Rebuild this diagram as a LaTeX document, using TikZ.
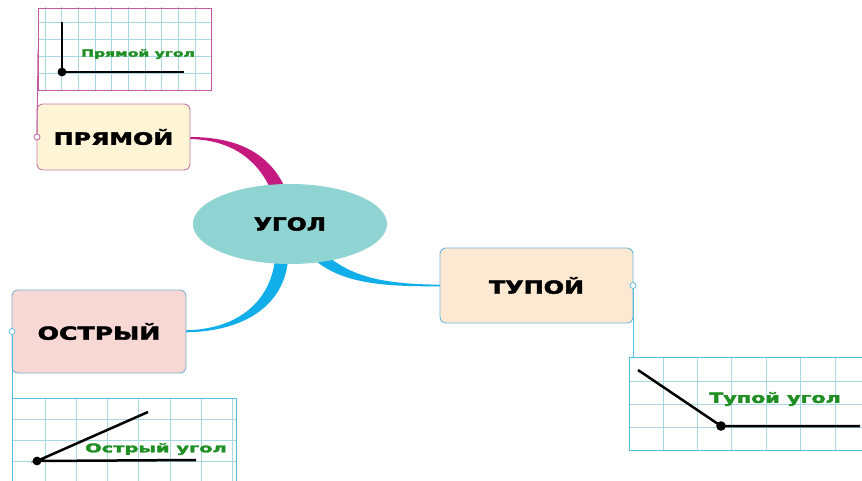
\documentclass[tikz,border=0pt]{standalone}
\usepackage{fontspec}
\usepackage{graphicx}
\setmainfont{DejaVu Sans}[BoldFeatures={FakeBold=2.2}]
\usetikzlibrary{shapes.geometric,calc,backgrounds}
\definecolor{ugolfill}{HTML}{8FD4D2}
\definecolor{magbranch}{HTML}{C41A80}
\definecolor{magline}{HTML}{C25AA2}
\definecolor{bluebranch}{HTML}{12AEEA}
\definecolor{blueline}{HTML}{55BCE6}
\definecolor{prmfill}{HTML}{FDF5D6}
\definecolor{prmdraw}{HTML}{C57AA7}
\definecolor{ostfill}{HTML}{F7D8D5}
\definecolor{ostdraw}{HTML}{80AFD2}
\definecolor{tupfill}{HTML}{FDE9D2}
\definecolor{tupdraw}{HTML}{6DB6DC}
\definecolor{gridblue}{HTML}{A9D8E2}
\definecolor{labgreen}{HTML}{1F8F23}
\newcommand{\wlab}[2]{\scalebox{#1}[1]{#2}}
\tikzset{
  topicbox/.style={draw, rounded corners=6pt, line width=0.9pt, inner sep=0pt, outer sep=0pt,
    font=\fontsize{18}{18}\selectfont\bfseries},
  picbox/.style={inner sep=0pt, outer sep=0pt},
  gridline/.style={draw=gridblue, line width=1pt},
  angleline/.style={draw=black, line width=2.5pt},
  angdot/.style={fill=black},
  anglabel/.style={text=labgreen, inner sep=0pt},
  knob/.style={circle, draw, fill=white, inner sep=0pt, minimum size=6pt, line width=0.7pt},
  thinline/.style={line width=0.9pt}
}
\begin{document}
\begin{tikzpicture}[x=1pt,y=-1pt]
\useasboundingbox (0,0) rectangle (862,481);
% central topic
\node[ellipse, fill=ugolfill, minimum width=194pt, minimum height=80pt, inner sep=0pt,
  font=\fontsize{18}{18}\selectfont\bfseries] (ugol) at (290,224) {\wlab{1.3}{УГОЛ}};
% topic boxes
\node[topicbox, draw=prmdraw, fill=prmfill, minimum width=153pt, minimum height=66pt,
  font=\fontsize{17}{17}\selectfont\bfseries] (prm) at (113.5,137) {\wlab{1.4}{ПРЯМОЙ}};
\node[topicbox, draw=ostdraw, fill=ostfill, minimum width=174pt, minimum height=83pt] (ost) at (99,331.5) {\wlab{1.4}{ОСТРЫЙ}};
\node[topicbox, draw=tupdraw, fill=tupfill, minimum width=193pt, minimum height=75pt] (tup) at (536.5,285.5) {\wlab{1.33}{ТУПОЙ}};
% picture boxes
\node[picbox, minimum width=173pt, minimum height=82pt] (prmimg) at (124.5,49) {};
\node[picbox, minimum width=224pt, minimum height=90pt] (ostimg) at (124,443) {};
\node[picbox, minimum width=237pt, minimum height=93pt] (tupimg) at (747.5,403.5) {};
% branches
\begin{scope}[on background layer]
  \fill[magbranch] (prm.east) .. controls (240,137) and (271,155) .. (286,190)
    -- (271,190) .. controls (259,163) and (235,140) .. ($(prm.east)+(0,2)$) -- cycle;
  \fill[bluebranch] ($(ugol.center)+(-2,36)$) .. controls (284,305) and (245,331.5) .. ($(ost.east)+(0,0.8)$)
    -- ($(ost.east)+(0,-1.2)$) .. controls (240,329) and (270,300) .. ($(ugol.center)+(-15,36)$) -- cycle;
  \fill[bluebranch] ($(ugol.center)+(26,37)$) .. controls (345,285) and (390,286.5) .. ($(tup.west)+(0,0.8)$)
    -- ($(tup.west)+(0,-0.8)$) .. controls (390,284) and (357,279) .. ($(ugol.center)+(40,34)$) -- cycle;
  % grids
  \begin{scope}
    \clip (prmimg.south west) rectangle (prmimg.north east);
    \foreach \i in {0,...,9} \draw[gridline] (45+16.7*\i,0) -- (45+16.7*\i,100);
    \foreach \y in {23,39.7,56.4,73.1} \draw[gridline] (30,\y) -- (220,\y);
  \end{scope}
  \begin{scope}
    \clip (ostimg.south west) rectangle (ostimg.north east);
    \foreach \i in {0,...,6} \draw[gridline] (45+31.3*\i,390) -- (45+31.3*\i,490);
    \foreach \y in {419,440,461} \draw[gridline] (0,\y) -- (240,\y);
  \end{scope}
  \begin{scope}
    \clip (tupimg.south west) rectangle (tupimg.north east);
    \foreach \i in {0,...,5} \draw[gridline] (663+34.4*\i,350) -- (663+34.4*\i,460);
    \foreach \y in {381,404,427} \draw[gridline] (620,\y) -- (870,\y);
  \end{scope}
\end{scope}
% picture box borders
\draw[draw=magline, line width=0.9pt] (prmimg.south west) rectangle (prmimg.north east);
\draw[draw=blueline, line width=0.9pt] (ostimg.south west) rectangle (ostimg.north east);
\draw[draw=blueline, line width=0.9pt] (tupimg.south west) rectangle (tupimg.north east);
% thin connectors and knobs
\draw[thinline, magline] (prm.west) -- (prmimg.south west |- 0,50);
\draw[thinline, blueline] (ost.west) -- (ostimg.north west);
\draw[thinline, blueline] (tup.east) -- (tup.east |- tupimg.north);
\node[knob, draw=magline] at (prm.west) {};
\node[knob, draw=blueline] at (ost.west) {};
\node[knob, draw=blueline] at (tup.east) {};
% angle drawings
\coordinate (pv) at (62,72);
\draw[angleline] (62,22) -- (pv) -- (184,72);
\fill[angdot] (pv) circle (4.4);
\node[anglabel, font=\fontsize{10}{10}\selectfont\bfseries] at (138,54) {\wlab{1.55}{Прямой угол}};
\coordinate (ov) at (37,461);
\draw[angleline] (148,412) -- (ov) -- (196,460);
\fill[angdot] (ov) circle (4.4);
\node[anglabel, font=\fontsize{12}{12}\selectfont\bfseries] at (156,449) {\wlab{1.62}{Острый угол}};
\coordinate (tv) at (721,426);
\draw[angleline] (638,370) -- (tv) -- (860,426);
\fill[angdot] (tv) circle (4.8);
\node[anglabel, font=\fontsize{14}{14}\selectfont\bfseries] at (775,399) {\wlab{1.48}{Тупой угол}};
\end{tikzpicture}
\end{document}
